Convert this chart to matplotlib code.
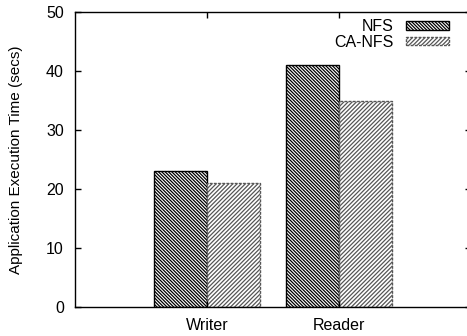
import matplotlib.pyplot as plt
import numpy as np

plt.rcParams["font.family"] = ["Liberation Sans", "DejaVu Sans"]
plt.rcParams["hatch.linewidth"] = 0.9

workloads = ["Writer", "Reader"]
nfs_times = [23, 41]
canfs_times = [21, 35]
series_names = ["NFS", "CA-NFS"]


def main():
    fig = plt.figure(figsize=(4.67, 3.36), dpi=100)
    ax = fig.add_axes([75 / 467, 29 / 336, 396 / 467, 295 / 336])

    x = np.arange(len(workloads))
    width = 0.4

    ax.bar(x - width, nfs_times, width, align="edge", facecolor="white",
           edgecolor="black", hatch="\\" * 10, linewidth=1.0,
           label=series_names[0])
    ax.bar(x, canfs_times, width, align="edge", facecolor="white",
           edgecolor="#555555", hatch="/" * 8, linewidth=1.0,
           linestyle=(0, (2, 1)), label=series_names[1])

    ax.set_xlim(-1, 2)
    ax.set_ylim(0, 50)
    ax.set_xticks(x)
    ax.set_xticklabels(workloads)
    ax.set_yticks(np.arange(0, 51, 10))
    ax.set_ylabel("Application Execution Time (secs)", fontsize=11)
    ax.yaxis.set_label_coords(-0.132, 0.5)

    ax.tick_params(axis="both", direction="in", length=4, width=1,
                   labelsize=11.5, top=True, right=True)
    ax.tick_params(axis="x", pad=8)
    ax.tick_params(axis="y", pad=8)
    for spine in ax.spines.values():
        spine.set_linewidth(1.0)

    fig.legend(loc="upper right", bbox_to_anchor=(449 / 467, 1 - 19 / 336),
               frameon=False, markerfirst=False, fontsize=11.5,
               handlelength=2.7, handleheight=0.45, handletextpad=0.75,
               labelspacing=0.05, borderpad=0, borderaxespad=0)

    fig.savefig("out.png", dpi=100)
    plt.close(fig)


if __name__ == "__main__":
    main()
